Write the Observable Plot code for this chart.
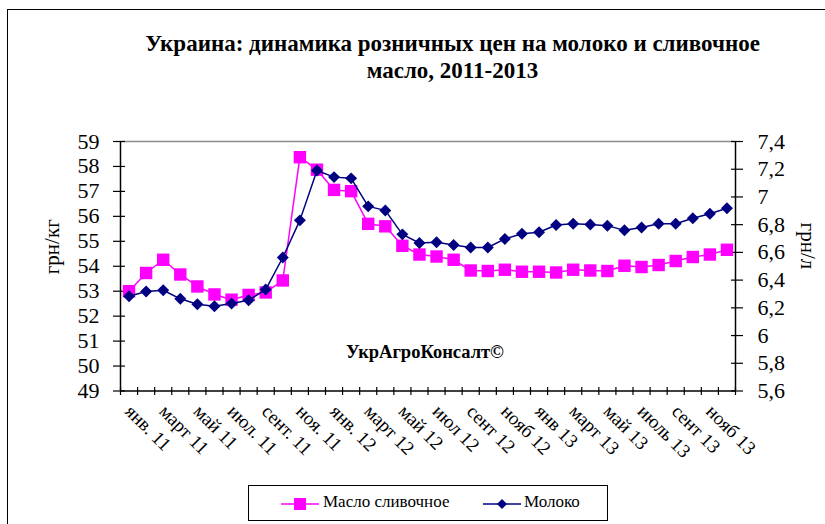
<!DOCTYPE html>
<html><head><meta charset="utf-8">
<script src="https://cdn.jsdelivr.net/npm/d3@7"></script>
<script src="https://cdn.jsdelivr.net/npm/@observablehq/plot@0.6"></script>
<style>
body{margin:0;background:#fff;}
#wrap{position:relative;width:825px;height:524px;overflow:hidden;font-family:"Liberation Serif","Times New Roman",serif;color:#000;background:#fff;}
#frame{position:absolute;left:7px;top:9px;width:900px;height:600px;border:1.5px solid #000;}
#title{position:absolute;left:0;width:905px;top:30px;text-align:center;font-weight:bold;font-size:23px;line-height:27px;}
#chart{position:absolute;left:0;top:0;}
#legend{position:absolute;left:248px;top:485px;width:360px;height:36px;border:1.5px solid #000;box-sizing:border-box;background:#fff;}
#legend .sw{position:absolute;top:9px;}
#legend .lt{position:absolute;top:6px;font-size:17px;line-height:20px;white-space:nowrap;}
</style></head>
<body>
<div id="wrap">
  <div id="frame"></div>
  <div id="title">Украина: динамика розничных цен на молоко и сливочное<br>масло, 2011-2013</div>
  <div id="chart"></div>
  <div id="legend"></div>
</div>
<script>
const butter = [53.0,53.73,54.26,53.67,53.19,52.87,52.66,52.85,52.95,53.43,58.37,57.87,57.06,57.01,55.70,55.60,54.82,54.47,54.39,54.26,53.83,53.81,53.86,53.78,53.78,53.75,53.86,53.83,53.81,54.02,53.97,54.05,54.21,54.37,54.47,54.66];
const milk = [6.284,6.318,6.327,6.265,6.226,6.212,6.231,6.255,6.332,6.563,6.831,7.191,7.143,7.134,6.932,6.903,6.730,6.668,6.673,6.654,6.635,6.635,6.697,6.735,6.745,6.798,6.807,6.802,6.793,6.759,6.779,6.807,6.807,6.846,6.879,6.918];
const tickLabels = ["янв. 11","март 11","май 11","июл. 11","сент. 11","ноя. 11","янв. 12","март 12","май 12","июл 12","сент 12","нояб 12","янв 13","март 13","май 13","июль 13","сент 13","нояб 13"];
const leftTicks = [49,50,51,52,53,54,55,56,57,58,59];
const rightTicks = [5.6,5.8,6,6.2,6.4,6.6,6.8,7,7.2,7.4];
const seriesNames = ["Масло сливочное","Молоко"];
const seriesColors = ["#ff00ff","#000080"];
const leftTitle = "грн/кг", rightTitle = "грн/л", watermark = "УкрАгроКонсалт©";

const L0 = leftTicks[0], L1 = leftTicks[leftTicks.length-1];
const R0 = rightTicks[0], R1 = rightTicks[rightTicks.length-1];
const toLeft = v => L0 + (v - R0) / (R1 - R0) * (L1 - L0);
const toRight = v => R0 + (v - L0) / (L1 - L0) * (R1 - R0);
const fmtR = v => String(Math.round(toRight(v) * 10) / 10).replace(".", ",");
const N = butter.length;

const butterData = butter.map((v, i) => ({i, v}));
const milkData = milk.map((v, i) => ({i, v: toLeft(v)}));
const labelData = tickLabels.map((t, k) => ({i: k * 2, t}));
const font = "'Liberation Serif','Times New Roman',serif";

const chart = Plot.plot({
  width: 825, height: 524,
  marginLeft: 120, marginRight: 90, marginTop: 141, marginBottom: 133.5,
  x: {domain: [0, N], axis: null},
  y: {domain: [L0, L1], axis: null},
  style: {fontFamily: font, fontSize: "22px", color: "#000", background: "transparent", overflow: "visible"},
  marks: [
    Plot.ruleY([L1], {stroke: "#8c8c8c", strokeWidth: 1.5}),
    Plot.ruleX([0, N], {stroke: "#000", strokeWidth: 1.5}),
    Plot.ruleY([L0], {stroke: "#000", strokeWidth: 1.5}),
    Plot.axisY({anchor: "left", ticks: leftTicks, tickSize: 12, insetLeft: 5, tickPadding: 14, label: null, fontSize: 22, strokeWidth: 1.2, tickFormat: d => String(d)}),
    Plot.axisY({anchor: "right", ticks: rightTicks.map(toLeft), tickSize: 12, insetRight: 5, tickPadding: 15, label: null, fontSize: 22, strokeWidth: 1.2, tickFormat: fmtR}),
    Plot.axisX({anchor: "bottom", ticks: d3.range(N + 1), tickSize: 8, insetBottom: 3.5, fill: "none", label: null, strokeWidth: 1.2}),
    Plot.text(labelData, {x: d => d.i + 0.5, y: L0, text: "t", rotate: 45, textAnchor: "start", lineAnchor: "bottom", dx: -5, dy: 21.5, fontSize: 19}),
    Plot.text([leftTitle], {frameAnchor: "left", dx: -68, dy: 8, rotate: -90, fontSize: 21}),
    Plot.text([rightTitle], {frameAnchor: "right", dx: 72, dy: 3, rotate: 90, fontSize: 21}),
    Plot.text([watermark], {frameAnchor: "middle", dx: -3, dy: 86, fontWeight: "bold", fontSize: 18.5}),
    Plot.line(butterData, {x: d => d.i + 0.5, y: "v", stroke: seriesColors[0], strokeWidth: 1.5}),
    Plot.dot(butterData, {x: d => d.i + 0.5, y: "v", symbol: "square", r: 7, fill: seriesColors[0], stroke: "none"}),
    Plot.line(milkData, {x: d => d.i + 0.5, y: "v", stroke: seriesColors[1], strokeWidth: 1.5}),
    Plot.dot(milkData, {x: d => d.i + 0.5, y: "v", symbol: "diamond2", r: 5.4, fill: seriesColors[1], stroke: "none"})
  ]
});
document.getElementById("chart").appendChild(chart);

const legend = document.getElementById("legend");
const swX = [32, 234], txX = [74, 275];
const symbols = ['<rect x="13" y="3" width="12" height="12"/>', '<path d="M19,4 L24,9 L19,14 L14,9 Z"/>'];
seriesNames.forEach((name, k) => {
  const sw = document.createElement("div");
  sw.className = "sw";
  sw.style.left = swX[k] + "px";
  sw.innerHTML = `<svg width="38" height="18"><line x1="0" x2="38" y1="9" y2="9" stroke="${seriesColors[k]}" stroke-width="1.5"/><g fill="${seriesColors[k]}">${symbols[k]}</g></svg>`;
  legend.appendChild(sw);
  const t = document.createElement("div");
  t.className = "lt";
  t.style.left = txX[k] + "px";
  t.textContent = name;
  legend.appendChild(t);
});
</script>
</body></html>
